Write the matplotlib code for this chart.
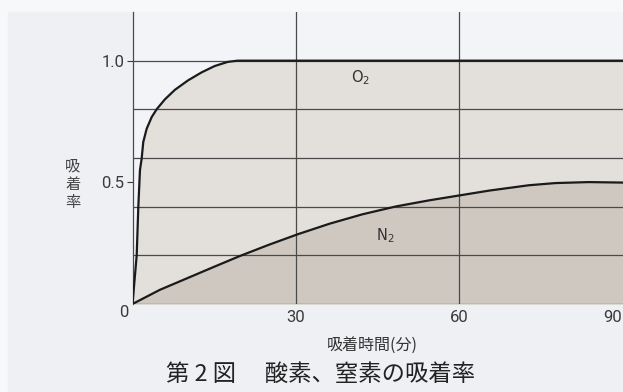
import matplotlib
matplotlib.use("Agg")
import matplotlib.pyplot as plt
from matplotlib.patches import Rectangle

plt.rcParams['font.family'] = ['Noto Sans CJK JP', 'DejaVu Sans']

# data (time in minutes, adsorption ratio)
o2_time = [0, 0.77, 1.07, 1.37, 1.68, 1.98, 2.6, 3.52, 4.43, 5.95, 7.78, 10.2, 12.7, 15.1, 17.5, 19.3, 90]
o2_rate = [0, 0.20, 0.40, 0.55, 0.597, 0.666, 0.72, 0.768, 0.80, 0.841, 0.880, 0.919, 0.952, 0.978, 0.995, 1.0, 1.0]
n2_time = [0, 5, 11, 15, 19.7, 25, 30.4, 36.2, 42.3, 48.4, 54.5, 60, 65.5, 72.8, 77.7, 83.8, 90]
n2_rate = [0, 0.058, 0.115, 0.153, 0.197, 0.243, 0.287, 0.330, 0.369, 0.401, 0.426, 0.446, 0.466, 0.488, 0.497, 0.501, 0.499]
x_ticks = [0, 30, 60, 90]
x_ticklabels = ["0", "30", "60", "90"]
y_ticks = [0.5, 1.0]
y_ticklabels = ["0.5", "1.0"]
y_grid = [0.2, 0.4, 0.6, 0.8, 1.0]
x_grid = [30, 60]

W, H = 623, 392
fig = plt.figure(figsize=(W / 100, H / 100), dpi=100, facecolor='#f7f8fa')
fig.patches.append(Rectangle((8 / W, 0), 1, (H - 12) / H, transform=fig.transFigure,
                             color='#eef0f4', zorder=-10))
x0 = 132.5
ax = fig.add_axes([x0 / W, (H - 304) / H, (622.5 - x0) / W * 90.3 / 90, (304 - 12) / H])
ax.set_facecolor('#f3f4f7')
ax.set_xlim(0, 90.3)
ax.set_ylim(0, 1.2)

ax.fill_between(o2_time, o2_rate, 0, color='#e3dfdb', lw=0, zorder=1)
ax.fill_between(n2_time, n2_rate, 0, color='#cfc8c1', lw=0, zorder=2)

for y in y_grid:
    ax.axhline(y, color='#4a4a4a', lw=0.9, zorder=3)
for x in x_grid:
    ax.axvline(x, color='#4a4a4a', lw=0.9, zorder=3)
ax.axhline(0, color='#4a4a4a', lw=0.9, zorder=3)

ax.plot(o2_time, o2_rate, color='#1a1a1a', lw=1.6, zorder=4, solid_joinstyle='round')
ax.plot(n2_time, n2_rate, color='#1a1a1a', lw=1.6, zorder=4, solid_joinstyle='round')

ax.text(41.8, 0.93, 'O$_2$', fontsize=10.5, color='#333333', ha='center', va='center',
        family='DejaVu Sans', zorder=5)
ax.text(46.4, 0.28, 'N$_2$', fontsize=10.5, color='#333333', ha='center', va='center',
        family='DejaVu Sans', zorder=5)

for s in ['top', 'right', 'bottom']:
    ax.spines[s].set_visible(False)
ax.spines['left'].set_color('#4a4a4a')
ax.spines['left'].set_linewidth(0.9)

ax.set_xticks(x_ticks[1:])
ax.set_xticklabels(x_ticklabels[1:])
ax.set_yticks(y_ticks)
ax.set_yticklabels(y_ticklabels)
ax.tick_params(axis='x', length=0, pad=4, labelsize=12, colors='#3a3a3a')
ax.tick_params(axis='y', length=4, pad=2, labelsize=12, colors='#3a3a3a', width=0.8)
for lbl in ax.get_xticklabels() + ax.get_yticklabels():
    lbl.set_family('Roboto')
ax.xaxis.get_majorticklabels()[-1].set_ha('right')

ax.text(-1.6, -0.035, x_ticklabels[0], transform=ax.transData, ha='center', va='center',
        fontsize=12, color='#3a3a3a', family='Roboto')

fig.text(73 / W, 1 - 184 / H, '吸\n着\n率', ha='center', va='center', fontsize=11,
         color='#444444', linespacing=1.1)
fig.text(372 / W, 1 - 345 / H, '吸着時間(分)', ha='center', va='center', fontsize=11.5,
         color='#333333')
fig.text(321 / W, 1 - 374 / H, '第 2 図　 酸素、窒素の吸着率', ha='center', va='center',
         fontsize=16.8, color='#222222')

fig.savefig('out.png', dpi=100, facecolor=fig.get_facecolor())
